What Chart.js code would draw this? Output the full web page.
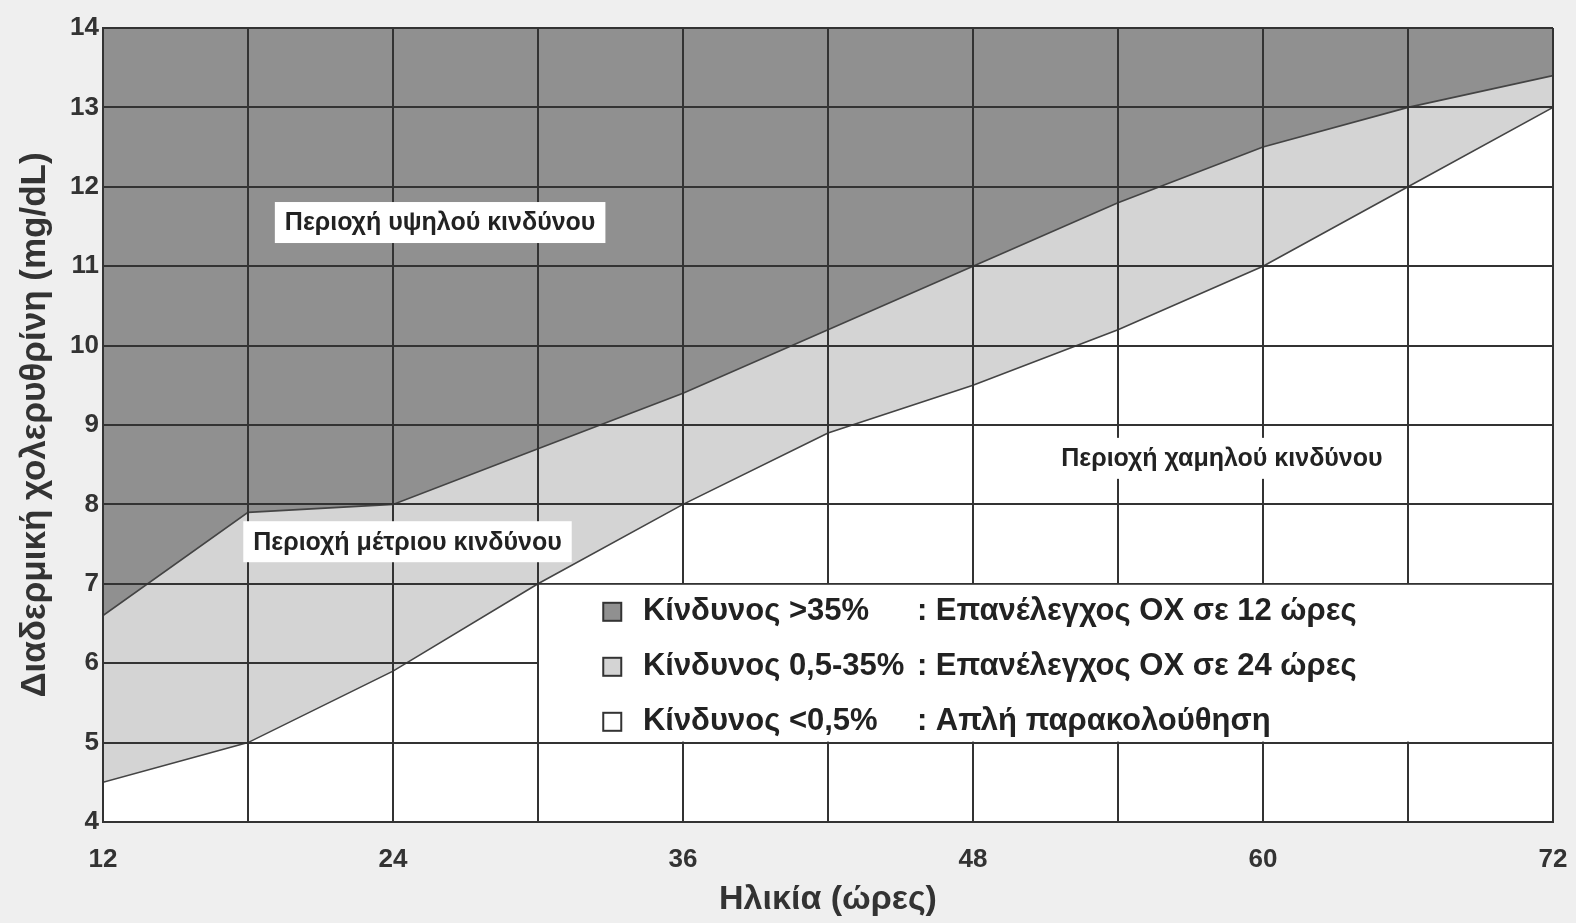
<!DOCTYPE html>
<html lang="el">
<head>
<meta charset="utf-8">
<title>Νομόγραμμα χολερυθρίνης</title>
<script src="https://cdn.jsdelivr.net/npm/chart.js@4/dist/chart.umd.min.js"></script>
<style>
  html, body { margin: 0; padding: 0; background: #efefef; overflow: hidden; }
  #wrap { width: 1576px; height: 923px; position: relative; }
</style>
</head>
<body>
<div id="wrap"><canvas id="chart"></canvas></div>
<script>
// hours of life and the two risk boundaries (mg/dL)
const hours = [12, 18, 24, 30, 36, 42, 48, 54, 60, 66, 72];
const highRiskLine = [6.6, 7.9, 8.0, 8.7, 9.4, 10.2, 11.0, 11.8, 12.5, 13.0, 13.4];
const lowRiskLine = [4.5, 5.0, 5.9, 7.0, 8.0, 8.9, 9.5, 10.2, 11.0, 12.0, 13.0];

const xTickLabels = [12, 24, 36, 48, 60, 72];

const zoneLabels = [
  { text: 'Περιοχή υψηλού κινδύνου', x: 25.95, y: 11.55 },
  { text: 'Περιοχή μέτριου κινδύνου', x: 24.6, y: 7.53 },
  { text: 'Περιοχή χαμηλού κινδύνου', x: 58.3, y: 8.58 },
];

const legendRisk = ['Κίνδυνος >35%', 'Κίνδυνος 0,5-35%', 'Κίνδυνος <0,5%'];
const legendAction = [': Επανέλεγχος ΟΧ σε 12 ώρες', ': Επανέλεγχος ΟΧ σε 24 ώρες', ': Απλή παρακολούθηση'];

const DARK = '#909090';
const LIGHT = '#d4d4d4';
const GRID = '#333333';
const FONT = '"Liberation Sans", Arial, sans-serif';

const plotBg = {
  id: 'plotBg',
  beforeDraw(chart) {
    const { ctx, chartArea: a } = chart;
    ctx.save();
    ctx.fillStyle = '#ffffff';
    ctx.fillRect(a.left, a.top, a.right - a.left, a.bottom - a.top);
    ctx.restore();
  },
};

const overlays = {
  id: 'overlays',
  afterDraw(chart) {
    const { ctx } = chart;
    const xs = chart.scales.x;
    const ys = chart.scales.y;
    ctx.save();

    // zone labels on white boxes
    ctx.font = 'bold 25px ' + FONT;
    ctx.textBaseline = 'middle';
    ctx.textAlign = 'center';
    zoneLabels.forEach((z) => {
      const cx = xs.getPixelForValue(z.x);
      const cy = ys.getPixelForValue(z.y);
      const w = ctx.measureText(z.text).width + 20;
      const h = 41;
      ctx.fillStyle = '#ffffff';
      ctx.fillRect(cx - w / 2, cy - h / 2, w, h);
      ctx.fillStyle = '#222222';
      ctx.fillText(z.text, cx, cy + 1);
    });

    // legend panel between 30h..72h and 5..7 mg/dL
    const l = xs.getPixelForValue(30) + 1;
    const r = xs.getPixelForValue(72) - 1;
    const t = ys.getPixelForValue(7) + 1;
    const b = ys.getPixelForValue(5) - 1;
    ctx.fillStyle = '#ffffff';
    ctx.fillRect(l, t, r - l, b - t);

    const fills = [DARK, LIGHT, '#ffffff'];
    ctx.textAlign = 'left';
    ctx.font = 'bold 31px ' + FONT;
    legendRisk.forEach((txt, i) => {
      const cy = t + 27 + 55 * i;
      const bx = xs.getPixelForValue(32.7);
      ctx.fillStyle = fills[i];
      ctx.fillRect(bx, cy - 9, 18, 18);
      ctx.strokeStyle = '#333333';
      ctx.lineWidth = 2;
      ctx.strokeRect(bx, cy - 9, 18, 18);
      ctx.fillStyle = '#222222';
      ctx.fillText(txt, xs.getPixelForValue(34.34), cy);
      ctx.fillText(legendAction[i], xs.getPixelForValue(45.68), cy);
    });
    ctx.restore();
  },
};

new Chart(document.getElementById('chart'), {
  type: 'line',
  data: {
    labels: hours,
    datasets: [
      {
        label: 'Κίνδυνος >35%',
        data: hours.map((h, i) => ({ x: h, y: highRiskLine[i] })),
        borderColor: '#444444',
        borderWidth: 1.6,
        backgroundColor: DARK,
        fill: 'end',
        pointRadius: 0,
        tension: 0,
      },
      {
        label: 'Κίνδυνος 0,5-35%',
        data: hours.map((h, i) => ({ x: h, y: lowRiskLine[i] })),
        borderColor: '#444444',
        borderWidth: 1.6,
        backgroundColor: LIGHT,
        fill: '-1',
        pointRadius: 0,
        tension: 0,
      },
    ],
  },
  options: {
    responsive: true,
    maintainAspectRatio: false,
    animation: false,
    layout: { padding: { top: 28, right: 23, left: 0, bottom: 0 } },
    plugins: {
      legend: { display: false },
      tooltip: { enabled: false },
    },
    scales: {
      x: {
        type: 'linear',
        min: 12,
        max: 72,
        afterFit: (s) => {
          s.height = 101;
          // tick padding would otherwise widen the right margin
          s.paddingLeft = 0;
          s.paddingRight = 0;
        },
        grid: { color: GRID, lineWidth: 2, drawTicks: false, z: 1 },
        border: { color: GRID, width: 2, z: 1 },
        ticks: {
          stepSize: 6,
          padding: 22,
          color: '#333333',
          font: { family: FONT, size: 26, weight: 'bold' },
          callback: (v) => (xTickLabels.includes(v) ? String(v) : ''),
          maxRotation: 0,
          autoSkip: false,
        },
        title: {
          display: true,
          text: 'Ηλικία (ώρες)',
          color: '#333333',
          font: { family: FONT, size: 34, weight: 'bold' },
          padding: { top: 0, bottom: 3 },
        },
      },
      y: {
        min: 4,
        max: 14,
        afterFit: (s) => { s.width = 103; },
        grid: { color: GRID, lineWidth: 2, drawTicks: false, z: 1 },
        border: { color: GRID, width: 2, z: 1 },
        ticks: {
          stepSize: 1,
          padding: 4,
          color: '#333333',
          font: { family: FONT, size: 26, weight: 'bold' },
        },
        title: {
          display: true,
          text: 'Διαδερμική χολερυθρίνη (mg/dL)',
          color: '#333333',
          font: { family: FONT, size: 35, weight: 'bold' },
          padding: { top: 14, bottom: 0 },
        },
      },
    },
  },
  plugins: [plotBg, overlays],
});
</script>
</body>
</html>
